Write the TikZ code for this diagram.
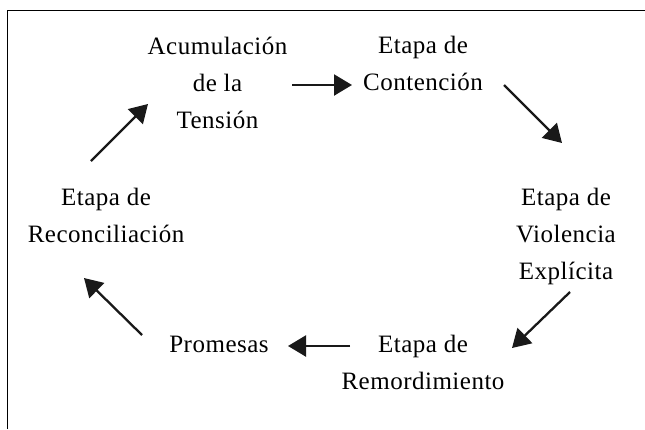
\documentclass[tikz,border=0pt]{standalone}
\usepackage{fontspec}
\setmainfont{Liberation Serif}[LetterSpace=2]
\usetikzlibrary{arrows.meta}
\tikzset{
  lbl/.style={anchor=base, inner sep=0pt, font=\fontsize{25}{37}\selectfont},
  cyc/.style={line width=2.3pt, -{Triangle[length=18pt,width=21pt]}, color=black!90},
  frame/.style={line width=1.8pt}
}
\newcommand{\stk}[1]{\begin{tabular}[t]{@{}c@{}}#1\end{tabular}}
\begin{document}
\begin{tikzpicture}[x=1pt,y=-1pt]
\useasboundingbox (0,0) rectangle (645,429);
% frame
\coordinate (fbl) at (7.5,429);
\coordinate (ftl) at (7.5,10.5);
\coordinate (ftr) at (645,10.5);
\draw[frame] (fbl) -- (ftl) -- (ftr);
% labels
\node[lbl] (acum)  at (217.5,54) {\stk{Acumulación\\de la\\Tensión}};
\node[lbl] (cont)  at (423,53)   {\stk{Etapa de\\Contención}};
\node[lbl] (viol)  at (566,205)  {\stk{Etapa de\\Violencia\\Explícita}};
\node[lbl] (rem)   at (423,352)  {\stk{Etapa de\\Remordimiento}};
\node[lbl] (prom)  at (219,352)  {Promesas};
\node[lbl] (recon) at (106,205)  {\stk{Etapa de\\Reconciliación}};
% arrow ends
\coordinate (a1s) at (292,85);  \coordinate (a1e) at (352,85);
\coordinate (a2s) at (504,85);  \coordinate (a2e) at (562,143);
\coordinate (a3s) at (570,292); \coordinate (a3e) at (512,348);
\coordinate (a4s) at (350,346); \coordinate (a4e) at (288,346);
\coordinate (a5s) at (142,335); \coordinate (a5e) at (84,278);
\coordinate (a6s) at (91,161);  \coordinate (a6e) at (148,104);
\draw[cyc] (a1s) -- (a1e);
\draw[cyc] (a2s) -- (a2e);
\draw[cyc] (a3s) -- (a3e);
\draw[cyc] (a4s) -- (a4e);
\draw[cyc] (a5s) -- (a5e);
\draw[cyc] (a6s) -- (a6e);
\end{tikzpicture}
\end{document}
